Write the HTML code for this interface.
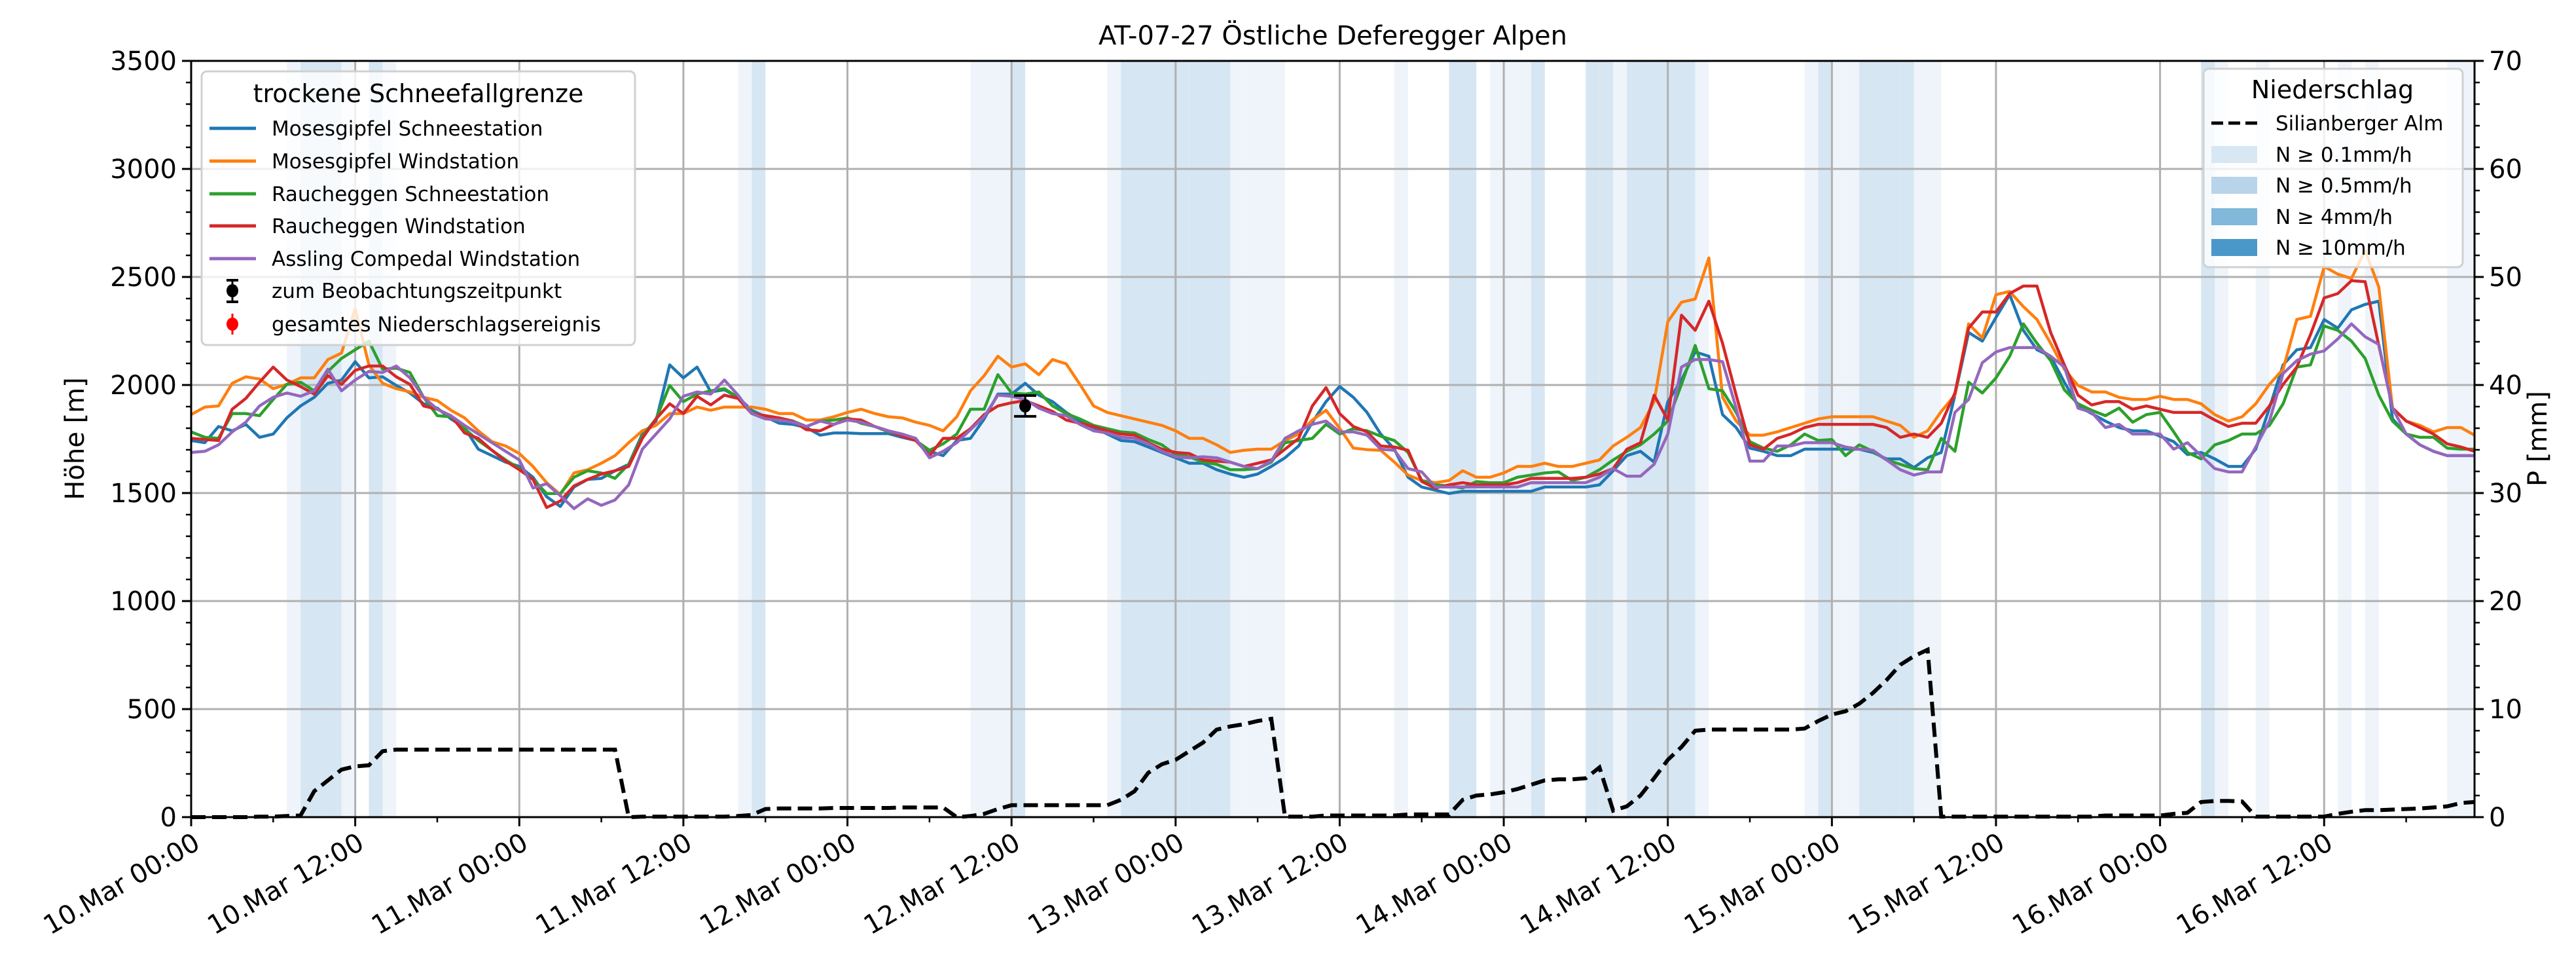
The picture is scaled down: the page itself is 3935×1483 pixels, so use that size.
<!DOCTYPE html>
<html><head><meta charset="utf-8"><style>
html,body{margin:0;padding:0;background:#fff;}
svg{display:block;font-family:"DejaVu Sans","Liberation Sans",sans-serif;}
</style></head><body>
<svg id="chart" xmlns="http://www.w3.org/2000/svg" width="3935" height="1483" viewBox="0 0 3935 1483">
<rect x="0" y="0" width="3935" height="1483" fill="#fff"/>
<text x="2036" y="68" font-size="40" text-anchor="middle">AT-07-27 Östliche Deferegger Alpen</text>
<g id="bands"></g>
<g id="grid"></g>
<g id="series"></g>
<g id="precip"></g>
<g id="axes"></g>
<text transform="translate(128,670) rotate(-90)" font-size="40" text-anchor="middle">Höhe [m]</text>
<text transform="translate(3890,670) rotate(-90)" font-size="40" text-anchor="middle">P [mm]</text>

<g>
<rect x="308" y="109" width="662" height="418" rx="8" fill="#fff" fill-opacity="0.8" stroke="#d0d0d0" stroke-width="3"/>
<text x="639" y="156" font-size="38" text-anchor="middle">trockene Schneefallgrenze</text>
<line x1="320" y1="196" x2="391" y2="196" stroke="#1f77b4" stroke-width="5"/>
<text x="415" y="207" font-size="31">Mosesgipfel Schneestation</text>
<line x1="320" y1="246" x2="391" y2="246" stroke="#ff7f0e" stroke-width="5"/>
<text x="415" y="257" font-size="31">Mosesgipfel Windstation</text>
<line x1="320" y1="296" x2="391" y2="296" stroke="#2ca02c" stroke-width="5"/>
<text x="415" y="307" font-size="31">Raucheggen Schneestation</text>
<line x1="320" y1="345" x2="391" y2="345" stroke="#d62728" stroke-width="5"/>
<text x="415" y="356" font-size="31">Raucheggen Windstation</text>
<line x1="320" y1="395" x2="391" y2="395" stroke="#9467bd" stroke-width="5"/>
<text x="415" y="406" font-size="31">Assling Compedal Windstation</text>
<g>
<line x1="355" y1="428" x2="355" y2="461" stroke="#000" stroke-width="3"/>
<line x1="346" y1="428" x2="364" y2="428" stroke="#000" stroke-width="4"/>
<line x1="346" y1="461" x2="364" y2="461" stroke="#000" stroke-width="4"/>
<ellipse cx="355" cy="444" rx="9" ry="10" fill="#000"/>
</g>
<text x="415" y="455" font-size="31">zum Beobachtungszeitpunkt</text>
<g>
<line x1="355" y1="479" x2="355" y2="511" stroke="#ff0000" stroke-width="3"/>
<ellipse cx="355" cy="495" rx="9" ry="10" fill="#ff0000"/>
</g>
<text x="415" y="506" font-size="31">gesamtes Niederschlagsereignis</text>
</g>

<g>
<rect x="3366" y="105" width="396" height="303" rx="8" fill="#fff" fill-opacity="0.8" stroke="#d0d0d0" stroke-width="3"/>
<text x="3563" y="150" font-size="38" text-anchor="middle">Niederschlag</text>
<line x1="3378" y1="188" x2="3448" y2="188" stroke="#000" stroke-width="5" stroke-dasharray="18 8"/>
<text x="3476" y="199" font-size="31">Silianberger Alm</text>
<rect x="3378" y="223" width="70" height="26" fill="#d7e7f4"/>
<text x="3476" y="247" font-size="31">N ≥ 0.1mm/h</text>
<rect x="3378" y="270" width="70" height="26" fill="#b8d4ea"/>
<text x="3476" y="294" font-size="31">N ≥ 0.5mm/h</text>
<rect x="3378" y="318" width="70" height="26" fill="#82b8d9"/>
<text x="3476" y="342" font-size="31">N ≥ 4mm/h</text>
<rect x="3378" y="365" width="70" height="26" fill="#4a98c9"/>
<text x="3476" y="389" font-size="31">N ≥ 10mm/h</text>
</g>
</svg>
<script>
// ---- data ----
const tickLabels = ["10.Mar 00:00","10.Mar 12:00","11.Mar 00:00","11.Mar 12:00","12.Mar 00:00","12.Mar 12:00","13.Mar 00:00","13.Mar 12:00","14.Mar 00:00","14.Mar 12:00","15.Mar 00:00","15.Mar 12:00","16.Mar 00:00","16.Mar 12:00"];
const yTicks = [0,500,1000,1500,2000,2500,3000,3500];
const y2Ticks = [0,10,20,30,40,50,60,70];
const seriesNames = ["Mosesgipfel Schneestation","Mosesgipfel Windstation","Raucheggen Schneestation","Raucheggen Windstation","Assling Compedal Windstation"];
const mosesSchnee = [1743,1733,1808,1788,1818,1758,1773,1848,1903,1943,2008,2023,2108,2033,2038,1998,1963,1913,1893,1843,1803,1703,1673,1643,1623,1573,1483,1438,1528,1563,1568,1603,1633,1773,1833,2093,2033,2083,1968,1978,1943,1883,
1853,1823,1818,1803,1768,1778,1778,1775,1775,1775,1758,1743,1693,1673,1743,1753,1843,1958,1958,2008,1953,1923,1873,1833,1803,1773,1743,1738,1713,1688,1663,1638,1638,1608,1588,1573,1588,1623,1663,1718,1828,1923,
1993,1943,1873,1773,1703,1573,1528,1513,1498,1508,1508,1508,1508,1508,1508,1528,1528,1528,1528,1538,1603,1673,1693,1643,1923,2023,2153,2133,1863,1803,1708,1693,1673,1673,1703,1703,1703,1703,1703,1688,1658,
1658,1618,1663,1688,1953,2243,2203,2313,2418,2253,2163,2133,2013,1903,1868,1833,1803,1788,1788,1763,1738,1678,1688,1658,1623,1623,1703,1893,2093,2163,2173,2303,2263,2348,2373,2388,1843,1773,1723,1693,1673,1673,1673];
const mosesWind = [1863,1898,1903,2008,2038,2028,1983,2003,2033,2033,2118,2148,2353,2093,2008,1983,1968,1943,1928,1883,1848,1788,1738,1718,1683,1623,1548,1493,1593,1608,1638,1673,1733,1788,1813,1868,1868,1898,1883,1898,1898,1898,
1888,1868,1868,1838,1838,1853,1873,1888,1868,1853,1848,1828,1813,1788,1853,1973,2043,2133,2083,2098,2048,2118,2098,2003,1903,1873,1858,1843,1828,1813,1788,1753,1753,1723,1688,1698,1703,1703,1743,1773,1838,1883,
1800,1708,1701,1698,1643,1583,1558,1548,1558,1603,1573,1573,1593,1623,1623,1638,1623,1623,1638,1653,1718,1758,1803,1923,2293,2383,2398,2588,1943,1833,1768,1768,1783,1803,1823,1843,1853,1853,1853,1853,1833,
1813,1758,1788,1878,1953,2283,2218,2418,2433,2363,2303,2193,2073,1998,1968,1968,1943,1933,1933,1948,1933,1933,1913,1863,1833,1853,1913,2003,2073,2303,2318,2548,2513,2493,2623,2453,1893,1833,1813,1783,1803,1803,1768];
const rauchSchnee = [1783,1758,1753,1868,1868,1858,1933,2003,2013,1973,2063,2123,2163,2203,2073,2078,2058,1943,1858,1853,1798,1743,1698,1653,1613,1563,1498,1498,1573,1603,1593,1568,1633,1763,1843,1998,1923,1958,1973,1983,1943,1873,
1853,1843,1833,1808,1833,1838,1848,1823,1808,1783,1768,1743,1698,1728,1773,1888,1888,2048,1963,1958,1968,1903,1868,1843,1813,1798,1783,1778,1748,1723,1678,1668,1643,1633,1608,1608,1613,1643,1733,1743,1753,1818,
1773,1798,1788,1763,1743,1688,1558,1538,1533,1523,1553,1548,1548,1573,1583,1593,1598,1558,1573,1608,1653,1693,1723,1773,1833,2003,2183,1983,1973,1873,1738,1708,1693,1723,1773,1743,1748,1673,1723,1693,1653,
1633,1613,1608,1753,1693,2013,1963,2033,2133,2283,2193,2113,1978,1913,1883,1858,1893,1828,1863,1873,1783,1688,1658,1723,1743,1773,1773,1813,1913,2083,2093,2273,2253,2203,2123,1953,1833,1773,1758,1758,1708,1703,1703];
const rauchWind = [1753,1748,1743,1888,1938,2013,2083,2023,1993,1958,2043,2003,2068,2088,2088,2038,2003,1903,1888,1858,1778,1753,1698,1648,1608,1563,1433,1463,1533,1563,1588,1603,1623,1753,1843,1913,1868,1948,1908,1953,1938,1868,
1858,1848,1833,1793,1788,1818,1843,1838,1808,1788,1763,1743,1673,1753,1753,1798,1863,1903,1918,1928,1903,1878,1838,1823,1808,1788,1773,1768,1733,1703,1688,1683,1653,1648,1643,1623,1638,1653,1703,1753,1903,1988,
1868,1808,1783,1718,1713,1698,1553,1523,1538,1548,1538,1538,1538,1548,1568,1568,1568,1568,1573,1588,1613,1703,1733,1953,1838,2323,2253,2388,2193,1953,1723,1703,1753,1773,1803,1818,1818,1818,1818,1818,1803,
1758,1773,1758,1823,1963,2263,2338,2338,2423,2458,2458,2243,2093,1953,1908,1923,1923,1888,1903,1888,1873,1873,1873,1838,1808,1823,1823,1903,2003,2083,2233,2403,2423,2483,2478,2183,1893,1833,1803,1773,1728,1713,1693];
const assling = [1688,1693,1723,1783,1828,1903,1943,1963,1948,1973,2073,1973,2023,2063,2058,2088,2033,1943,1888,1858,1813,1773,1733,1693,1653,1523,1543,1488,1428,1473,1443,1468,1538,1703,1773,1843,1948,1968,1958,2023,1953,1868,
1843,1838,1828,1808,1833,1818,1838,1828,1808,1788,1773,1753,1663,1693,1733,1793,1853,1953,1948,1933,1893,1868,1858,1818,1788,1778,1758,1753,1728,1693,1668,1663,1668,1663,1643,1623,1613,1648,1753,1788,1818,1833,
1783,1783,1768,1703,1698,1613,1598,1528,1528,1528,1528,1528,1528,1528,1548,1548,1548,1548,1548,1573,1613,1578,1578,1633,1773,2083,2118,2118,2108,1893,1648,1648,1718,1718,1733,1733,1733,1713,1703,1698,1653,
1608,1583,1598,1598,1873,1933,2103,2153,2173,2173,2173,2133,2083,1893,1873,1803,1818,1773,1773,1773,1703,1733,1673,1613,1598,1598,1713,1833,2053,2113,2143,2158,2213,2283,2223,2188,1893,1773,1723,1693,1673,1673,1673];
const precipSum = [0,0,0,0,0,0.05,0.05,0.1,
0.15,2.4,3.4,4.4,4.7,4.8,6.1,6.25,
6.25,6.25,6.25,6.25,6.25,6.25,6.25,6.25,
6.25,6.25,6.25,6.25,6.25,6.25,6.25,6.25,
0,0.05,0.05,0.05,0.05,0.05,0.05,0.05,
0.1,0.2,0.75,0.8,0.8,0.8,0.8,0.85,
0.85,0.85,0.85,0.85,0.9,0.9,0.9,0.9,
0,0.1,0.3,0.75,1.1,1.1,1.1,1.1,
1.1,1.1,1.1,1.1,1.6,2.4,4.1,4.9,
5.3,6.1,6.9,8.1,8.4,8.6,8.9,9.1,
0.05,0.05,0.05,0.15,0.15,0.15,0.15,0.15,
0.15,0.25,0.25,0.25,0.25,1.6,2.0,2.1,
2.3,2.6,3.0,3.4,3.5,3.5,3.6,4.6,
0.6,1.0,2.0,3.6,5.3,6.5,8.0,8.1,
8.1,8.1,8.1,8.1,8.1,8.1,8.2,8.9,
9.5,9.8,10.5,11.5,12.7,14.1,14.9,15.5,
0.05,0.05,0.05,0.05,0.05,0.05,0.05,0.05,
0.05,0.05,0.05,0.05,0.15,0.15,0.15,0.15,
0.15,0.3,0.4,1.4,1.5,1.5,1.45,0.05,
0.05,0.05,0.05,0.05,0.05,0.3,0.5,0.65,
0.65,0.7,0.75,0.8,0.9,1.0,1.3,1.4];
const lightHours = [7,11,14,40,57,58,59,67,76,77,78,79,88,95,96,97,104,110,118,120,121,126,127,148,151,157,159,165,166,167];
const darkHours = [8,9,10,13,41,60,68,69,70,71,72,73,74,75,92,93,98,102,103,105,106,107,108,109,119,122,123,124,125,147];
const obsHour = [61];
const obsValue = [1903];
const obsErr = [48];

// ---- layout ----
const NS = "http://www.w3.org/2000/svg";
const X0 = 292, X1 = 3780, Y0 = 1248, Y1 = 93, HMAX = 167;
const xs = h => X0 + h * (X1 - X0) / HMAX;
const ys = v => Y0 - v * (Y0 - Y1) / 3500;
const ys2 = v => Y0 - v * (Y0 - Y1) / 70;
function mk(tag, attrs, parent){ const e = document.createElementNS(NS, tag); for (const k in attrs) e.setAttribute(k, attrs[k]); parent.appendChild(e); return e; }

const gBands = document.getElementById('bands');
lightHours.forEach(h => {
  const r = mk('rect', {x: xs(h), y: Y1, width: Math.min(xs(h+1), X1)-xs(h), height: Y0-Y1, fill: '#eef4fa'}, gBands);
  
  
});
darkHours.forEach(h => {
  const r = mk('rect', {x: xs(h), y: Y1, width: Math.min(xs(h+1), X1)-xs(h), height: Y0-Y1, fill: '#d6e6f3'}, gBands);
  
  
});

const gGrid = document.getElementById('grid');
tickLabels.forEach((t, i) => {
  const x = xs(i * 12);
  const l = mk('line', {x1: x, y1: Y1, x2: x, y2: Y0, stroke: '#b0b0b0', 'stroke-width': 3}, gGrid);
  
  
});
yTicks.forEach(v => {
  const y = ys(v);
  const l = mk('line', {x1: X0, y1: y, x2: X1, y2: y, stroke: '#b0b0b0', 'stroke-width': 3}, gGrid);
  
  
});

const gSeries = document.getElementById('series');
const allSeries = [mosesSchnee, mosesWind, rauchSchnee, rauchWind, assling];
const colors = ['#1f77b4','#ff7f0e','#2ca02c','#d62728','#9467bd'];
const sNames = ['line-mosesgipfel-schnee','line-mosesgipfel-wind','line-raucheggen-schnee','line-raucheggen-wind','line-assling'];
allSeries.forEach((s, i) => {
  const d = s.map((v, h) => (h ? 'L' : 'M') + xs(h).toFixed(1) + ' ' + ys(v).toFixed(1)).join(' ');
  const p = mk('path', {d: d, fill: 'none', stroke: colors[i], 'stroke-width': 4.5, 'stroke-linejoin': 'round'}, gSeries);
  
  
});

const gP = document.getElementById('precip');
const pd = precipSum.map((v, h) => (h ? 'L' : 'M') + xs(h).toFixed(1) + ' ' + ys2(v).toFixed(1)).join(' ');
const pp = mk('path', {d: pd, fill: 'none', stroke: '#000', 'stroke-width': 6, 'stroke-dasharray': '22 10'}, gP);



obsHour.forEach((h, i) => {
  const x = xs(h), y = ys(obsValue[i]), yt = ys(obsValue[i] + obsErr[i]), yb = ys(obsValue[i] - obsErr[i]);
  const g = mk('g', {}, gP);
  
  
  mk('line', {x1: x, y1: yt, x2: x, y2: yb, stroke: '#000', 'stroke-width': 3}, g);
  mk('line', {x1: x-17, y1: yt, x2: x+17, y2: yt, stroke: '#000', 'stroke-width': 4}, g);
  mk('line', {x1: x-17, y1: yb, x2: x+17, y2: yb, stroke: '#000', 'stroke-width': 4}, g);
  mk('ellipse', {cx: x, cy: y, rx: 9, ry: 10, fill: '#000'}, g);
});

const gA = document.getElementById('axes');
mk('rect', {x: X0, y: Y1, width: X1-X0, height: Y0-Y1, fill: 'none', stroke: '#000', 'stroke-width': 3}, gA);
yTicks.forEach(v => {
  const y = ys(v);
  mk('line', {x1: X0-14, y1: y, x2: X0, y2: y, stroke: '#000', 'stroke-width': 3}, gA);
  const t = mk('text', {x: X0-22, y: y+14, 'font-size': 40, 'text-anchor': 'end'}, gA);
  t.textContent = v;
  
  
});
for (let v = 0; v <= 3500; v += 100) { if (v % 500) { const y = ys(v); mk('line', {x1: X0-8, y1: y, x2: X0, y2: y, stroke: '#000', 'stroke-width': 2.5}, gA); } }
y2Ticks.forEach(v => {
  const y = ys2(v);
  mk('line', {x1: X1, y1: y, x2: X1+14, y2: y, stroke: '#000', 'stroke-width': 3}, gA);
  const t = mk('text', {x: X1+22, y: y+14, 'font-size': 40}, gA);
  t.textContent = v;
  
  
});
for (let v = 0; v <= 70; v += 2) { if (v % 10) { const y = ys2(v); mk('line', {x1: X1, y1: y, x2: X1+8, y2: y, stroke: '#000', 'stroke-width': 2.5}, gA); } }
for (let h = 6; h <= HMAX; h += 12) { const x = xs(h); mk('line', {x1: x, y1: Y0, x2: x, y2: Y0+8, stroke: '#000', 'stroke-width': 2.5}, gA); }
tickLabels.forEach((lab, i) => {
  const x = xs(i * 12);
  mk('line', {x1: x, y1: Y0, x2: x, y2: Y0+14, stroke: '#000', 'stroke-width': 3}, gA);
  const t = mk('text', {x: x+4, y: Y0+50, 'font-size': 40, 'text-anchor': 'end', transform: `rotate(-30 ${x+4} ${Y0+26})`}, gA);
  t.textContent = lab;
  
  
});
</script>
</body></html>
